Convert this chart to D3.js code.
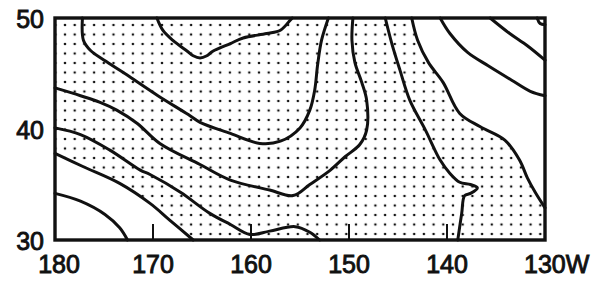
<!DOCTYPE html>
<html>
<head>
<meta charset="utf-8">
<script src="https://cdn.jsdelivr.net/npm/d3@7"></script>
<style>
  body { margin: 0; background: #fff; }
  svg { display: block; }
  .tick-label { font-family: "Liberation Sans", Arial, sans-serif; font-size: 25px; fill: #111; stroke: #111; stroke-width: 0.9px; }
</style>
</head>
<body>
<div class="chart-wrapper"></div>
<script>
// axis ticks (degrees west / degrees north)
const lonTicks = [180, 170, 160, 150, 140, 130];
const lonLabels = ["180", "170", "160", "150", "140", "130W"];
const latTicks = [30, 40, 50];

// contour lines, [lon W, lat N]
const lineA = [[177.2,50],[177.1,48.0],[176.4,47.1],[174.8,46.1],[172.2,44.6],[169.5,43.0],[166.4,41.3],[165.2,40.6],[162.1,39.6],[159.1,38.7],[157.0,38.9],[155.0,40.1],[154.0,41.7],[153.5,43.5],[153.2,45.8],[152.8,48.0],[152.1,50]];
const lineBubble = [[169.6,50],[169.0,48.9],[168.0,48.0],[166.5,47.0],[165.9,46.6],[165.2,46.4],[164.5,46.6],[163.9,47.0],[162.1,47.7],[160.8,48.2],[158.4,48.6],[157.0,48.9],[156.0,49.8],[155.8,50]];
const lineB = [[180,43.7],[177.4,43.0],[175.4,42.4],[173.7,41.7],[171.6,40.5],[169.3,38.7],[165.2,36.8],[162.1,35.4],[158.1,34.5],[155.7,34.0],[154.0,35.0],[151.9,36.3],[150.4,37.5],[148.9,38.6],[148.2,39.9],[148.2,42.6],[148.7,44.2],[149.4,46.0],[149.7,48.0],[149.6,50]];
const lineC = [[180,40.1],[177.4,39.5],[174.4,38.1],[171.3,36.3],[170.3,35.9],[167.2,34.3],[164.2,32.4],[162.1,31.4],[160.1,30.5],[158.1,30.8],[155.5,31.2],[154.0,30.7],[153.0,30]];
const lineD = [[180,37.8],[177.1,36.6],[173.4,35.1],[170.3,33.3],[168.3,31.8],[165.9,30]];
const lineE = [[180,34.2],[177.4,33.5],[174.9,32.3],[173.4,31.1],[172.6,30]];
const lineF = [[146.3,50],[145.6,47.6],[144.8,45.3],[143.8,42.6],[142.2,39.9],[140.7,37.2],[139.7,36.0],[138.7,35.2],[137.6,35.0],[136.9,34.7],[137.6,34.2],[138.2,34.0],[138.5,32.4],[138.9,30]];
const lineG = [[143.6,50],[143.0,48.0],[141.9,46.0],[140.4,44.2],[138.7,41.4],[136.6,40.2],[134.1,39.0],[132.6,37.2],[131.8,35.6],[131.0,34.3],[130,32.9]];
const lineH = [[140.7,50],[139.7,48.6],[137.9,46.9],[135.8,45.7],[133.4,44.4],[131.5,43.4],[130,43.0]];
const lineI = [[135.6,50],[133.6,48.6],[131.8,47.5],[130,46.2]];
const lineJ = [[130.8,50],[130.5,49.5],[130,49.4]];

const contours = [lineA, lineBubble, lineB, lineC, lineD, lineE, lineF, lineG, lineH, lineI, lineJ];

const svgWidth = 600, svgHeight = 282;
const margin = { top: 18, right: 55, bottom: 42, left: 55 };
const innerW = svgWidth - margin.left - margin.right;
const innerH = svgHeight - margin.top - margin.bottom;

const svg = d3.select(".chart-wrapper").append("svg")
    .attr("width", svgWidth)
    .attr("height", svgHeight);

const x = d3.scaleLinear().domain([180, 130]).range([0, innerW]);
const y = d3.scaleLinear().domain([30, 50]).range([innerH, 0]);

const chart = svg.append("g").attr("transform", `translate(${margin.left},${margin.top})`);

// stipple pattern
const defs = svg.append("defs");
const pat = defs.append("pattern")
    .attr("id", "dots")
    .attr("patternUnits", "userSpaceOnUse")
    .attr("x", 5.15).attr("y", 2.25)
    .attr("width", 9.7).attr("height", 9.5);
pat.append("circle").attr("cx", 4.85).attr("cy", 4.75).attr("r", 1.3).attr("fill", "#111");

// stippled area: left of line G, above line D
const shadePts = [[180, 50]].concat(lineG, [[130, 30]], lineD.slice().reverse());
const linear = d3.line().x(d => x(d[0])).y(d => y(d[1]));
chart.append("path")
    .attr("d", linear(shadePts) + "Z")
    .attr("fill", "url(#dots)");

// contours
const curve = d3.line().x(d => x(d[0])).y(d => y(d[1])).curve(d3.curveCatmullRom.alpha(0.5));
chart.selectAll(".contour")
    .data(contours)
    .enter()
    .append("path")
    .attr("class", "contour")
    .attr("d", curve)
    .attr("fill", "none")
    .attr("stroke", "#111")
    .attr("stroke-width", 3)
    .attr("stroke-linejoin", "round")
    .attr("stroke-linecap", "round");

// inner ticks
chart.selectAll(".xtick")
    .data(lonTicks.slice(1, -1))
    .enter()
    .append("line")
    .attr("x1", d => x(d)).attr("x2", d => x(d))
    .attr("y1", innerH).attr("y2", innerH - 16)
    .attr("stroke", "#111").attr("stroke-width", 2);
chart.append("line")
    .attr("x1", 0).attr("x2", 8)
    .attr("y1", y(40)).attr("y2", y(40))
    .attr("stroke", "#111").attr("stroke-width", 2);

// frame
chart.append("rect")
    .attr("width", innerW).attr("height", innerH)
    .attr("fill", "none")
    .attr("stroke", "#111").attr("stroke-width", 3.4);

// x labels
chart.selectAll(".xlab")
    .data(lonTicks)
    .enter()
    .append("text")
    .attr("class", "tick-label")
    .attr("y", innerH + 33)
    .attr("text-anchor", (d, i) => i === lonTicks.length - 1 ? "start" : "middle")
    .attr("x", (d, i) => x(d) + (i === 0 ? 4 : 0) - (i === lonTicks.length - 1 ? 21 : 0))
    .text((d, i) => lonLabels[i]);

// y labels
chart.selectAll(".ylab")
    .data(latTicks)
    .enter()
    .append("text")
    .attr("class", "tick-label")
    .attr("x", -11)
    .attr("y", d => y(d) + 10)
    .attr("text-anchor", "end")
    .text(d => d);
</script>
</body>
</html>
